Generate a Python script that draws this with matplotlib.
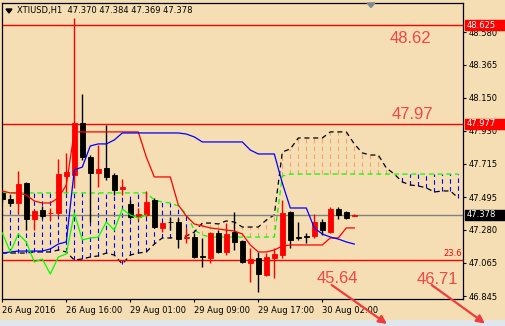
import numpy as np
import matplotlib
matplotlib.use('Agg')
import matplotlib.pyplot as plt
import matplotlib.transforms as mtransforms
from matplotlib.patches import Rectangle, Polygon

# XTIUSD H1 candles, 26 Aug 2016 08:00 .. 30 Aug 2016 04:00
opens = [47.523, 47.483, 47.457, 47.588, 47.352, 47.411, 47.388, 47.391, 47.634, 47.641,
         47.983, 47.759, 47.654, 47.687, 47.641, 47.549, 47.450, 47.365, 47.378, 47.477,
         47.293, 47.332, 47.332, 47.230, 47.233, 47.106, 47.095, 47.260, 47.135, 47.266,
         47.207, 47.063, 47.095, 46.984, 47.095, 47.115, 47.398, 47.233, 47.237, 47.240,
         47.332, 47.266, 47.417, 47.398, 47.370]
highs = [47.542, 47.510, 47.667, 47.595, 47.411, 47.437, 47.424, 47.746, 47.786, 48.673,
         48.173, 47.772, 47.838, 47.970, 47.654, 47.615, 47.477, 47.424, 47.536, 47.490,
         47.332, 47.365, 47.358, 47.293, 47.260, 47.227, 47.266, 47.279, 47.325, 47.398,
         47.214, 47.161, 47.135, 47.128, 47.161, 47.477, 47.404, 47.332, 47.260, 47.385,
         47.352, 47.431, 47.431, 47.404, 47.384]
lows = [47.463, 47.437, 47.391, 47.279, 47.279, 47.358, 47.345, 47.371, 47.529, 47.556,
        47.740, 47.332, 47.562, 47.608, 47.510, 47.510, 47.352, 47.345, 47.365, 47.293,
        47.266, 47.279, 47.161, 47.194, 47.095, 47.036, 47.063, 47.128, 47.115, 47.148,
        47.063, 46.938, 46.872, 46.977, 46.964, 47.095, 47.161, 47.214, 47.194, 47.227,
        47.247, 47.260, 47.352, 47.352, 47.369]
closes = [47.483, 47.457, 47.582, 47.352, 47.404, 47.371, 47.391, 47.647, 47.661, 47.983,
          47.759, 47.654, 47.680, 47.628, 47.542, 47.562, 47.365, 47.385, 47.463, 47.299,
          47.325, 47.329, 47.220, 47.233, 47.102, 47.102, 47.260, 47.135, 47.253, 47.201,
          47.069, 47.089, 46.990, 47.102, 47.122, 47.391, 47.214, 47.227, 47.233, 47.332,
          47.279, 47.417, 47.378, 47.358, 47.378]

# Ichimoku lines
tenkan = [47.536, 47.523, 47.523, 47.510, 47.470, 47.457, 47.457, 47.490, 47.575, 47.924,
          47.924, 47.924, 47.924, 47.924, 47.924, 47.924, 47.924, 47.924, 47.759, 47.628,
          47.628, 47.628, 47.444, 47.371, 47.319, 47.306, 47.293, 47.286, 47.279, 47.273,
          47.253, 47.181, 47.135, 47.135, 47.148, 47.174, 47.181, 47.181, 47.181, 47.181,
          47.181, 47.227, 47.227, 47.293, 47.293]
kijun = [47.128, 47.135, 47.141, 47.141, 47.141, 47.141, 47.155, 47.187, 47.201, 47.674,
         47.693, 47.832, 47.845, 47.845, 47.871, 47.917, 47.917, 47.917, 47.917, 47.917,
         47.917, 47.917, 47.917, 47.910, 47.891, 47.858, 47.858, 47.858, 47.858, 47.858,
         47.858, 47.805, 47.779, 47.779, 47.779, 47.588, 47.424, 47.424, 47.424, 47.293,
         47.253, 47.233, 47.220, 47.201, 47.187]
span_a = [47.523] * 19 + [47.477, 47.463, 47.457, 47.437, 47.385, 47.279, 47.247,
          47.233, 47.233, 47.233, 47.233, 47.233, 47.233, 47.233, 47.233, 47.233,
          47.634] + [47.647] * 22
span_b = [47.128, 47.128, 47.128, 47.128, 47.135, 47.135, 47.135, 47.148, 47.135, 47.082,
          47.089, 47.102, 47.109, 47.128, 47.115, 47.056, 47.115, 47.128, 47.135, 47.187,
          47.227, 47.227, 47.233, 47.240, 47.266, 47.325, 47.325, 47.319, 47.339, 47.332,
          47.299, 47.299, 47.299, 47.345, 47.378, 47.792, 47.812, 47.884, 47.884, 47.884,
          47.884, 47.924, 47.924, 47.924, 47.845, 47.786, 47.772, 47.772, 47.687, 47.647,
          47.595, 47.575, 47.569, 47.556, 47.529, 47.536, 47.536, 47.490]

x_labels = ['26 Aug 2016', '26 Aug 16:00', '29 Aug 01:00', '29 Aug 09:00',
            '29 Aug 17:00', '30 Aug 02:00']
label_bars = [0, 8, 16, 24, 32, 40]
price_ticks = [48.580, 48.365, 48.150, 47.930, 47.715, 47.495, 47.280, 47.065, 46.845]

level_lines = [48.625, 47.977]
fib_level = 47.082
last_price = 47.378
targets = ['48.62', '47.97', '45.64', '46.71']

BG = '#f5deb3'
RED = '#ff0000'
LABEL_RED = '#f04646'

fig = plt.figure(figsize=(5.05, 3.26), dpi=100, facecolor=BG)
ax = fig.add_axes([1.7 / 505, 26.7 / 326, 461.6 / 505, 296.6 / 326], facecolor=BG)
ax.set_xlim(-0.075, 57.625)
ax.set_ylim(46.824, 48.773)

o = np.array(opens)
h = np.array(highs)
l = np.array(lows)
c = np.array(closes)
n = len(o)
xb = np.arange(n)

# cloud hatching
a = np.array(span_a)
b = np.array(span_b)
xc = np.arange(len(a))
up = b > a
ax.vlines(xc[up], a[up], b[up], colors='#f4a460', linestyles=(0, (4, 3)), lw=0.8, zorder=1)
ax.vlines(xc[~up], b[~up], a[~up], colors='#0000ff', linestyles=(0, (4, 3)), lw=0.8, zorder=1)
ax.plot(xc, a, color='#00ff00', lw=0.9, ls=(0, (4, 3)), zorder=2)
ax.plot(xc, b, color='black', lw=0.9, ls=(0, (4, 3)), zorder=2)

# horizontal levels
for lv in level_lines:
    ax.axhline(lv, color=RED, lw=1.0, zorder=2.5)
ax.axhline(fib_level, color=RED, lw=1.0, zorder=2.5)
ax.axhline(last_price, color='#808080', lw=1.0, zorder=2.5)

# candles: red = up, black = down
cols = np.where(c >= o, RED, 'black')
ax.vlines(xb, l, h, colors=cols, lw=1.0, zorder=3)
ax.bar(xb, np.abs(c - o), bottom=np.minimum(o, c), width=0.58, color=cols,
       edgecolor=cols, linewidth=0.6, zorder=3.5)

# tenkan, kijun, chikou
ax.plot(xb, tenkan, color=RED, lw=0.9, zorder=4)
ax.plot(xb, kijun, color='#0000ff', lw=0.9, zorder=4)
ax.plot(xb[:n - 26], c[26:], color='#00ff00', lw=0.9, zorder=4)

# axes styling
for s in ax.spines.values():
    s.set_color('black')
    s.set_linewidth(0.9)
ax.yaxis.tick_right()
ax.set_yticks(price_ticks)
ax.set_yticklabels(['%.3f' % p for p in price_ticks])
ax.tick_params(axis='y', direction='out', length=2.5, width=0.8, pad=1.5, labelsize=6)
ax.set_xticks(label_bars)
ax.set_xticklabels(x_labels, ha='left')
ax.tick_params(axis='x', direction='out', length=2.5, width=0.8, pad=2, labelsize=6)

# price boxes on the right scale
bt = mtransforms.blended_transform_factory(fig.transFigure, ax.transData)
box_h = 0.066
for lv, fc in [(level_lines[0], RED), (level_lines[1], RED), (last_price, 'black')]:
    ax.add_artist(Rectangle((465 / 505, lv - box_h / 2), 40 / 505, box_h, transform=bt,
                            facecolor=fc, edgecolor=fc, clip_on=False, zorder=6))
    ax.text(467 / 505, lv, '%.3f' % lv, transform=bt, color='white', fontsize=6,
            va='center', ha='left', clip_on=False, zorder=7)

ax.text(57.45, fib_level + 0.012, '23.6', color=RED, fontsize=6, ha='right', va='bottom', zorder=5)

# header
fig.add_artist(Polygon([[6 / 505, 1 - 9 / 326], [12 / 505, 1 - 9 / 326], [9 / 505, 1 - 13 / 326]],
                       closed=True, transform=fig.transFigure, color='black'))
fig.text(17 / 505, 1 - 11 / 326, 'XTIUSD,H1  47.370 47.384 47.369 47.378', fontsize=6,
         va='center', ha='left')
fig.add_artist(Polygon([[367 / 505, 1 - 3 / 326], [375 / 505, 1 - 3 / 326], [371 / 505, 1 - 7.5 / 326]],
                       closed=True, transform=fig.transFigure, color='#7b8a99'))

# target labels
tpos = [(410, 38.5), (412, 114.5), (337.5, 278.5), (437, 279.5)]
for t, (px, py) in zip(targets, tpos):
    fig.text(px / 505, 1 - py / 326, t, fontsize=12, color=LABEL_RED, family='Liberation Sans',
             ha='center', va='center', zorder=8)

for (x0, y0), (x1, y1) in [((331.7, 285), (387, 324)), ((431.7, 285), (485, 323.5))]:
    ax.annotate('', xy=(x1, 326 - y1), xytext=(x0, 326 - y0), xycoords='figure pixels',
                textcoords='figure pixels', annotation_clip=False,
                arrowprops=dict(arrowstyle='-|>', color='#f03c3c', lw=1.6, mutation_scale=12,
                                shrinkA=0, shrinkB=0), zorder=9)

# bottom strip
fig.add_artist(Rectangle((0, 0), 1, 6 / 326, transform=fig.transFigure,
                         facecolor='#dfe6ee', edgecolor='none', zorder=0))

fig.savefig('out.png', dpi=100, facecolor=BG)
